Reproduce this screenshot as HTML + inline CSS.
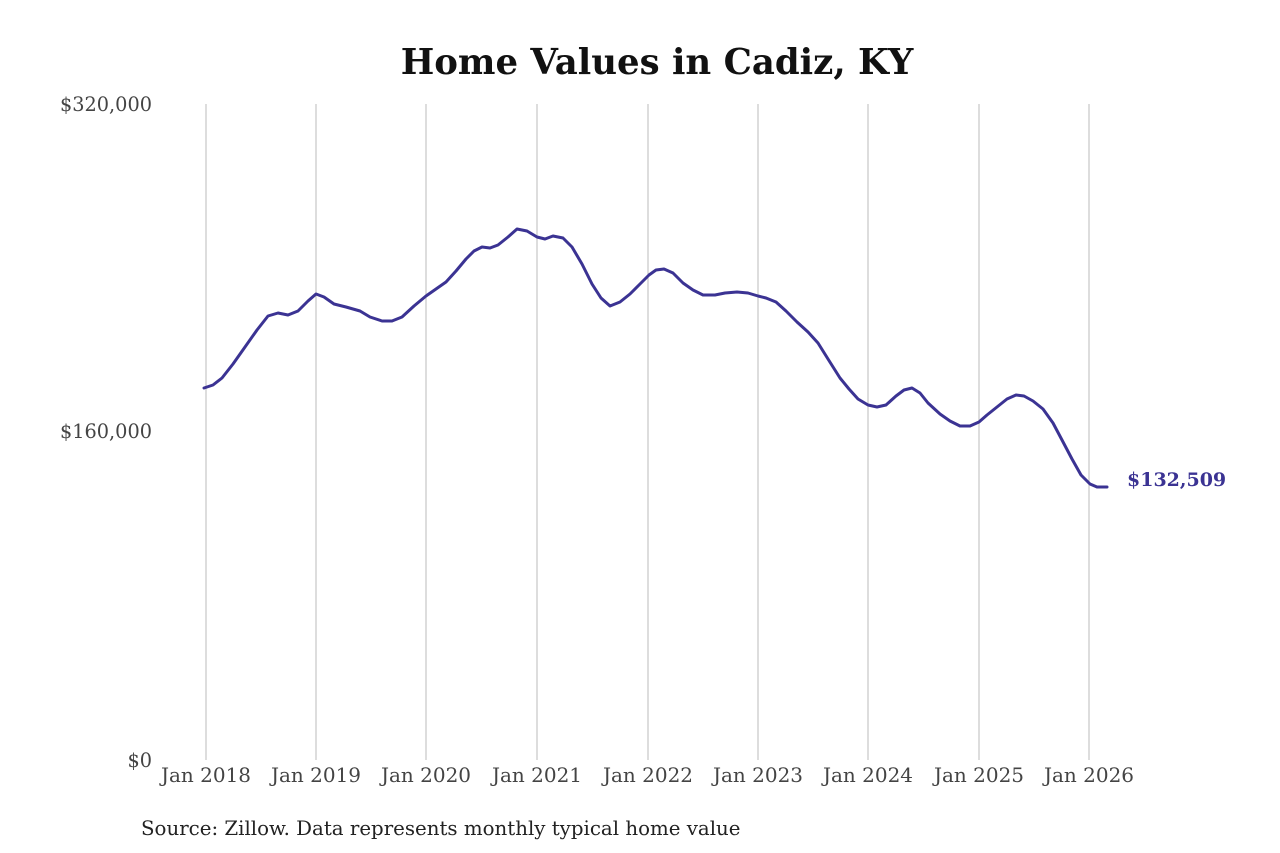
<!DOCTYPE html>
<html><head><meta charset="utf-8"><style>
html,body{margin:0;padding:0;background:#fff;}
</style></head><body>
<svg width="1280" height="853" xmlns="http://www.w3.org/2000/svg" style="display:block">
<rect width="1280" height="853" fill="#fff"/>
<text x="657" y="74" text-anchor="middle" font-family="DejaVu Serif, serif" font-weight="bold" font-size="35.5" fill="#111">Home Values in Cadiz, KY</text>
<g stroke="#bbb" stroke-width="1">
<line x1="206" y1="104" x2="206" y2="760"/>
<line x1="316" y1="104" x2="316" y2="760"/>
<line x1="426" y1="104" x2="426" y2="760"/>
<line x1="537" y1="104" x2="537" y2="760"/>
<line x1="648" y1="104" x2="648" y2="760"/>
<line x1="758" y1="104" x2="758" y2="760"/>
<line x1="868" y1="104" x2="868" y2="760"/>
<line x1="979" y1="104" x2="979" y2="760"/>
<line x1="1089" y1="104" x2="1089" y2="760"/>
</g>
<g font-family="DejaVu Serif, serif" font-size="19.3" fill="#444">
<text x="152" y="111" text-anchor="end">$320,000</text>
<text x="152" y="438" text-anchor="end">$160,000</text>
<text x="152" y="767" text-anchor="end">$0</text>
<g text-anchor="middle" font-size="20">
<text x="206" y="782">Jan 2018</text>
<text x="316" y="782">Jan 2019</text>
<text x="426" y="782">Jan 2020</text>
<text x="537" y="782">Jan 2021</text>
<text x="648" y="782">Jan 2022</text>
<text x="758" y="782">Jan 2023</text>
<text x="868" y="782">Jan 2024</text>
<text x="979" y="782">Jan 2025</text>
<text x="1089" y="782">Jan 2026</text>
</g>
</g>
<polyline fill="none" stroke="#3b3393" stroke-width="3" stroke-linejoin="round" stroke-linecap="round" points="204,388 213,385 222,378 233,364 245,347 257,330 268,316 278,313 288,315 298,311 308,301 316,294 324,297 334,304 346,307 360,311 370,317 382,321 392,321 402,317 414,306 426,296 436,289 446,282 456,271 466,259 474,251 482,247 490,248 498,245 508,237 517,229 527,231 537,237 545,239 553,236 563,238 572,247 582,264 592,284 601,298 610,306 620,302 630,294 640,284 649,275 656,270 664,269 673,273 683,283 693,290 703,295 715,295 725,293 737,292 748,293 758,296 766,298 776,302 786,311 797,322 808,332 818,343 828,359 840,378 849,389 858,399 868,405 877,407 886,405 896,396 904,390 912,388 920,393 928,403 940,414 950,421 960,426 970,426 979,422 987,415 997,407 1007,399 1016,395 1024,396 1033,401 1043,409 1053,423 1062,440 1072,459 1081,475 1090,484 1097,487 1107,487"/>
<text x="1127" y="486" font-family="DejaVu Serif, serif" font-weight="bold" font-size="19" fill="#3b3393">$132,509</text>
<text x="141" y="835" font-family="DejaVu Serif, serif" font-size="19.8" fill="#222">Source: Zillow. Data represents monthly typical home value</text>
</svg>
</body></html>
